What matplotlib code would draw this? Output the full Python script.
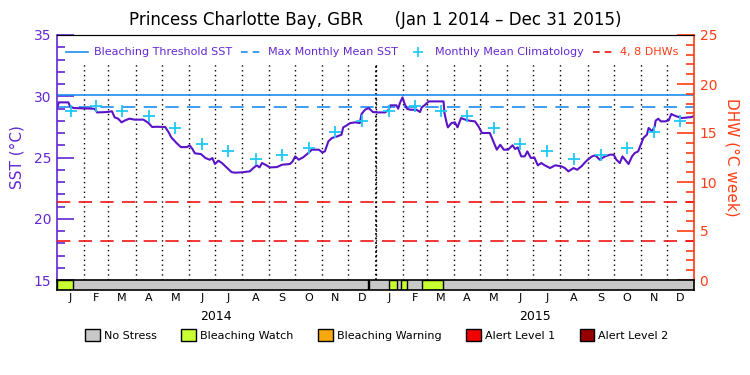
import matplotlib.pyplot as plt
import numpy as np
from matplotlib.lines import Line2D
from matplotlib.patches import Patch

# daily SST (day 0 = Jan 1 2014)
sst_day = [0, 2, 13, 15, 19, 43, 46, 57, 63, 66, 70, 74, 78, 83, 89, 99, 105, 109, 114, 124,
           128, 131, 137, 142, 149, 152, 155, 158, 165, 170, 175, 178, 181, 185, 189, 193, 196,
           200, 204, 212, 221, 225, 229, 232, 235, 240, 244, 252, 258, 267, 270, 273, 277, 282,
           288, 292, 300, 304, 307, 311, 315, 321, 326, 328, 332, 336, 342, 347, 349, 353, 357,
           360, 362, 368, 376, 380, 382, 389, 391, 393, 396, 398, 401, 405, 412, 416, 418, 422,
           426, 435, 443, 444, 447, 448, 452, 456, 459, 463, 468, 473, 479, 483, 487, 491, 496,
           500, 504, 508, 512, 517, 522, 525, 528, 532, 536, 539, 543, 547, 551, 555, 559, 565,
           571, 578, 582, 586, 592, 596, 601, 607, 613, 617, 622, 628, 634, 638, 641, 645, 648,
           651, 655, 659, 662, 666, 669, 672, 676, 678, 682, 685, 686, 689, 692, 697, 701, 704,
           708, 716, 727, 729]
sst_val = [29.0, 29.5, 29.5, 29.17, 29.04, 28.98, 28.68, 28.71, 28.77, 28.28, 28.17, 27.87,
           28.03, 28.17, 28.09, 28.09, 27.81, 27.49, 27.51, 27.49, 27.05, 26.64, 26.18, 25.85,
           25.85, 25.99, 25.72, 25.34, 25.28, 24.96, 24.82, 24.96, 24.47, 24.74, 24.55, 24.28,
           24.08, 23.81, 23.76, 23.79, 23.87, 24.14, 24.36, 24.19, 24.55, 24.36, 24.19, 24.22,
           24.41, 24.47, 24.68, 25.09, 24.82, 25.01, 25.36, 25.64, 25.64, 25.42, 25.5, 26.32,
           26.59, 26.72, 26.86, 27.46, 27.62, 27.81, 27.87, 27.81, 28.55, 28.9, 29.04, 28.85,
           28.71, 28.68, 28.68, 28.9, 29.26, 29.26, 28.98, 29.45, 29.91, 29.45, 28.98, 28.9,
           28.9, 28.71, 29.09, 29.31, 29.58, 29.58, 29.58, 28.63, 27.68, 27.46, 27.81, 27.87,
           27.46, 28.22, 28.09, 28.0, 27.95, 27.54, 27.0, 27.0, 27.0, 26.32, 25.64, 26.04,
           25.64, 25.64, 26.0, 25.69, 25.83, 25.09, 25.09, 25.5, 24.96, 25.01, 24.36, 24.55,
           24.36, 24.14, 24.36, 24.28, 24.14, 23.87, 24.14, 24.0, 24.28, 24.74, 25.09, 25.17,
           24.82, 25.09, 25.23, 25.23, 24.82, 24.55, 25.09, 24.82, 24.47, 25.09, 25.36, 25.5,
           26.04, 26.59, 26.86, 27.41, 27.13, 27.54, 28.0, 28.17, 27.95, 27.95, 28.03, 28.55,
           28.41, 28.22, 28.3, 28.36]

clim_val = [28.8, 29.2, 28.8, 28.4, 27.4, 26.1, 25.5, 24.9, 25.2, 25.8, 27.1, 28.0]
mmm = 29.1
threshold = 30.1
dhw_lines = [4, 8]

# bleaching watch periods (days since Jan 1 2014), rest of the record is no stress
watch_start = [0, 356, 380, 394, 418]
watch_end = [18, 358, 390, 401, 442]

month_letters = list('JFMAMJJASOND')
years = ['2014', '2015']

purple = '#5a14c8'
axis_purple = '#6428d2'
blue = '#1e8cf0'
cyan = '#1ec8f5'
red = '#f01414'
orange = '#ff3c14'

month_edges = (np.arange('2014-01', '2016-02', dtype='datetime64[M]').astype('datetime64[D]')
               - np.datetime64('2014-01-01')).astype(int)
month_mid = (month_edges[:-1] + month_edges[1:]) / 2
ndays = month_edges[-1]

fig = plt.figure(figsize=(7.5, 3.75), dpi=100)
ax = fig.add_axes([57 / 750, 1 - 280 / 375, 637 / 750, 245 / 375])
ax.set_xlim(0, ndays)
ax.set_ylim(15, 35)

ax.vlines(month_edges[1:-1], 15, 32.6, colors='k', linestyles=(0, (1, 2.5)), lw=1)
ax.vlines([month_edges[12]], 15, 32.6, colors='k', linestyles=(0, (1, 1.5)), lw=1.3)
ax.axhline(threshold, color=blue, lw=1.2)
ax.axhline(mmm, color=blue, lw=1.2, ls=(0, (8, 5)))
ax.plot(sst_day, sst_val, color=purple, lw=1.5)
ax.plot(month_mid, np.tile(clim_val, 2), ls='none', marker='+', ms=9, mew=1.3, color=cyan)

ax.set_xticks([])
ax.set_yticks(np.arange(15, 36, 5))
ax.set_yticks(np.arange(15, 36, 1), minor=True)
ax.tick_params(axis='y', which='major', direction='in', length=12, width=1.2,
               colors=axis_purple, labelsize=10, pad=4)
ax.tick_params(axis='y', which='minor', direction='in', length=6, width=1.2, colors=axis_purple)
ax.spines['left'].set_color(axis_purple)
ax.spines['left'].set_linewidth(1.2)
ax.spines['right'].set_visible(False)
ax.spines['bottom'].set_visible(False)
ax.set_ylabel('SST (°C)', color=axis_purple, fontsize=11, labelpad=7)

ax2 = ax.twinx()
ax2.set_ylim(0, 25)
for d in dhw_lines:
    ax2.axhline(d, color=red, lw=1.2, ls=(0, (8, 5)))
ax2.set_yticks(np.arange(0, 26, 5))
ax2.set_yticks(np.arange(0, 26, 1), minor=True)
ax2.tick_params(axis='y', which='major', direction='in', length=12, width=1.2,
                colors=orange, labelsize=10, pad=4)
ax2.tick_params(axis='y', which='minor', direction='in', length=6, width=1.2, colors=orange)
ax2.spines['right'].set_color(orange)
ax2.spines['right'].set_linewidth(1.2)
ax2.spines['left'].set_visible(False)
ax2.spines['bottom'].set_visible(False)
ax2.set_ylabel('DHW (°C week)', color=orange, fontsize=11, rotation=-90, labelpad=16)

handles = [Line2D([], [], color=blue, lw=1.2),
           Line2D([], [], color=blue, lw=1.2, ls=(0, (4, 3))),
           Line2D([], [], color=cyan, ls='none', marker='+', ms=7, mew=1.2),
           Line2D([], [], color=red, lw=1.2, ls=(0, (4, 3)))]
labels = ['Bleaching Threshold SST', 'Max Monthly Mean SST', 'Monthly Mean Climatology', '4, 8 DHWs']
ax2.legend(handles, labels, loc='upper center', bbox_to_anchor=(0.495, 0.99), ncol=4,
           frameon=False, fontsize=8, handlelength=2.0, handletextpad=0.5, columnspacing=0.8,
           labelcolor=[axis_purple, axis_purple, axis_purple, orange])

# stress strip
axs = fig.add_axes([57 / 750, 1 - 290 / 375, 637 / 750, 10 / 375])
axs.set_xlim(0, ndays)
axs.set_ylim(0, 1)
axs.axvspan(0, ndays, color='#c8c8c8')
axs.broken_barh([(s, e - s) for s, e in zip(watch_start, watch_end)], (0, 1),
                facecolor='#c8ff32', edgecolor='k', lw=1)
axs.set_yticks([])
axs.set_xticks(month_mid)
axs.set_xticklabels(month_letters * 2, fontsize=8)
axs.tick_params(axis='x', length=0, pad=2)
for sp in axs.spines.values():
    sp.set_linewidth(1.2)
for i, yr in enumerate(years):
    axs.annotate(yr, xy=((month_edges[12 * i] + month_edges[12 * i + 12]) / 2, 0),
                 xycoords=('data', 'axes fraction'), xytext=(0, -19), textcoords='offset points',
                 ha='center', va='center', fontsize=9)

fig.text(375 / 750, 1 - 20 / 375, 'Princess Charlotte Bay, GBR      (Jan 1 2014 – Dec 31 2015)',
         ha='center', va='center', fontsize=12)

stress_labels = ['No Stress', 'Bleaching Watch', 'Bleaching Warning', 'Alert Level 1', 'Alert Level 2']
stress_colors = ['#c8c8c8', '#c8ff32', '#f8a80c', '#f00000', '#960000']
fig.legend([Patch(facecolor=c, edgecolor='k', lw=1) for c in stress_colors], stress_labels,
           loc='center', bbox_to_anchor=(377 / 750, 1 - 335 / 375), ncol=5, frameon=False,
           fontsize=8, handlelength=1.3, handleheight=1.2, handletextpad=0.4, columnspacing=2.2)

fig.savefig('out.png', dpi=100)
